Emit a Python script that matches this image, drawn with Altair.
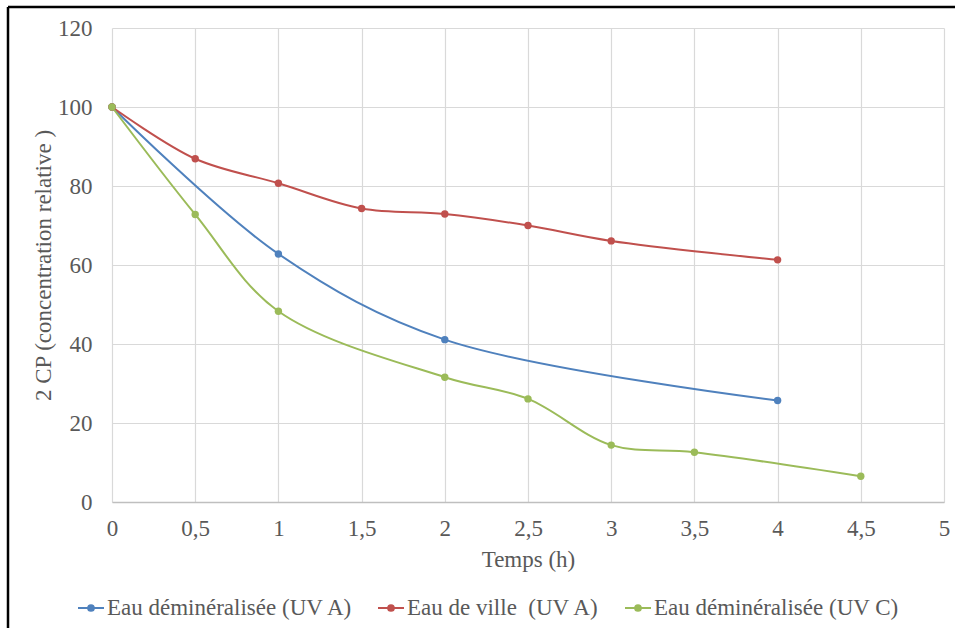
import altair as alt
import pandas as pd

# Series: relative concentration of 2 CP versus irradiation time
series_names = [
    "Eau déminéralisée (UV A)",
    "Eau de ville\u00a0 (UV A)",
    "Eau déminéralisée (UV C)",
]
series_colors = ["#4F81BD", "#C0504D", "#9BBB59"]

t_demin_uva = [0, 1, 2, 4]
c_demin_uva = [100, 62.8, 41.1, 25.7]

t_ville_uva = [0, 0.5, 1, 1.5, 2, 2.5, 3, 4]
c_ville_uva = [100, 86.9, 80.7, 74.3, 72.9, 70.0, 66.1, 61.3]

t_demin_uvc = [0, 0.5, 1, 2, 2.5, 3, 3.5, 4.5]
c_demin_uvc = [100, 72.8, 48.3, 31.6, 26.1, 14.4, 12.6, 6.5]

x_ticks = [0, 0.5, 1, 1.5, 2, 2.5, 3, 3.5, 4, 4.5, 5]
y_ticks = [0, 20, 40, 60, 80, 100, 120]

rows = []
for name, ts, cs in zip(
    series_names,
    [t_demin_uva, t_ville_uva, t_demin_uvc],
    [c_demin_uva, c_ville_uva, c_demin_uvc],
):
    for t, c in zip(ts, cs):
        rows.append({"serie": name, "temps": t, "conc": c})
df = pd.DataFrame(rows)

FONT = "'Liberation Serif', 'Times New Roman', 'DejaVu Serif', serif"
GREY = "#595959"
FS = 23

# Legend glyph: a short line with a dot in the middle (concentric strokes fill the dot)
legend_symbol = (
    "M-1,0L1,0"
    "M-0.22,0A0.22,0.22,0,1,0,0.22,0A0.22,0.22,0,1,0,-0.22,0"
    "M-0.1,0A0.1,0.1,0,1,0,0.1,0A0.1,0.1,0,1,0,-0.1,0"
    "M-0.03,0L0.03,0"
)

color_scale = alt.Scale(domain=series_names, range=series_colors)

color = alt.Color(
    "serie:N",
    scale=color_scale,
    sort=series_names,
    legend=alt.Legend(
        title=None,
        orient="none",
        direction="horizontal",
        legendX=-35,
        legendY=566,
        symbolType=legend_symbol,
        symbolSize=676,
        symbolStrokeWidth=2,
        labelFont=FONT,
        labelFontSize=FS,
        labelColor=GREY,
        labelOffset=2,
        columnPadding=21,
        labelLimit=400,
    ),
)

x = alt.X(
    "temps:Q",
    title="Temps (h)",
    scale=alt.Scale(domain=[0, 5], nice=False),
    axis=alt.Axis(
        values=x_ticks,
        labelExpr="replace(format(datum.value, '~g'), '.', ',')",
        labelFlush=False,
        grid=True,
        ticks=False,
        domainColor="#BFBFBF",
        domainWidth=1.5,
        labelPadding=15,
        titlePadding=8,
    ),
)
y = alt.Y(
    "conc:Q",
    title="2 CP (concentration relative )",
    scale=alt.Scale(domain=[0, 120], nice=False),
    axis=alt.Axis(
        values=y_ticks,
        labelFlush=False,
        grid=True,
        ticks=False,
        domain=False,
        labelPadding=20,
        titlePadding=2,
    ),
)

base = alt.Chart(df)
lines = base.mark_line(interpolate="catmull-rom", strokeWidth=2).encode(
    x=x, y=y, color=color, detail="serie:N"
)
points = base.mark_point(filled=True, size=55, opacity=1).encode(
    x="temps:Q",
    y="conc:Q",
    color=alt.Color("serie:N", legend=None, scale=color_scale),
)

# Outer frame around the figure
frame_src = alt.Chart(pd.DataFrame({"k": [0]}))
frame_top = frame_src.mark_rule(color="black", strokeWidth=2.5).encode(
    x=alt.value(-104), x2=alt.value(900), y=alt.value(-21)
)
frame_left = frame_src.mark_rule(color="black", strokeWidth=2.5).encode(
    x=alt.value(-104), y=alt.value(-21), y2=alt.value(700)
)

chart = (
    alt.layer(lines, points, frame_top, frame_left)
    .properties(
        width=832,
        height=474,
        autosize=alt.AutoSizeParams(type="none"),
        padding={"left": 112, "top": 28, "right": 11, "bottom": 126},
        background="white",
    )
    .configure_view(stroke=None)
    .configure_axis(
        gridColor="#D9D9D9",
        gridWidth=1.2,
        labelFont=FONT,
        labelFontSize=FS,
        labelColor=GREY,
        titleFont=FONT,
        titleFontSize=FS,
        titleColor=GREY,
        titleFontWeight="normal",
    )
)

chart.save("out.html", embed_options={"renderer": "svg", "actions": False})
